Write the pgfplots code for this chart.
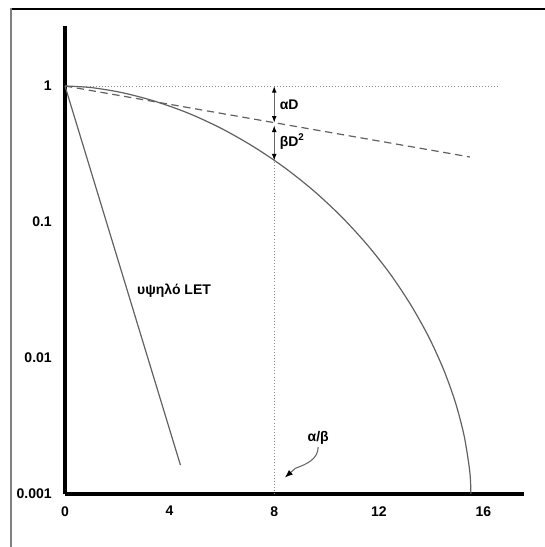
\documentclass[border=0pt]{standalone}
\usepackage{fontspec}
\setmainfont{Liberation Sans}
\usepackage{pgfplots}
\pgfplotsset{compat=1.18}
\usetikzlibrary{arrows.meta}
\begin{document}
\begin{tikzpicture}
\begin{axis}[
  at={(0pt,0pt)}, anchor=south west,
  scale only axis, width=344.25pt, height=351pt,
  ymode=log, xmin=0, xmax=17.55, ymin=0.001, ymax=2.76,
  axis x line=bottom, axis y line=left,
  axis line style={line width=2.4pt,-},
  xtick={0,4,8,12,16}, xticklabels={0,4,8,12,16},
  ytick={0.001,0.01,0.1,1}, yticklabels={0.001,0.01,0.1,1},
  tick style={draw=none}, major tick length=0pt, minor tick length=0pt,
  xticklabel style={anchor=north, inner sep=0pt, yshift=-9pt},
  yticklabel style={anchor=east, inner sep=0pt, xshift=-9.75pt},
  tick label style={font=\bfseries\fontsize{10.5}{12}\selectfont},
  /pgf/number format/assume math mode=true,
  clip=false,
]
% dotted guides
\addplot[black!45, line width=0.6pt, dash pattern=on 0.7pt off 1.6pt] coordinates {(0,1) (16.63,1)};
\addplot[black!45, line width=0.6pt, dash pattern=on 0.7pt off 1.6pt] coordinates {(8,0.001) (8,0.2826)};
% linear-quadratic curve
\addplot[black!62, line width=0.9pt, smooth] coordinates {(0,1) (1.032,0.9716) (2.221,0.8899) (3.456,0.7703) (4.713,0.6310) (5.960,0.4894) (7.183,0.3602) (8.368,0.2533) (9.499,0.1702) (10.558,0.1100) (11.540,0.06855) (12.435,0.04146) (13.226,0.02449) (13.914,0.01420) (14.484,0.008147) (14.935,0.004660) (15.260,0.002683) (15.455,0.001582) (15.505,0.001238) (15.520,0.001)};
% alpha-only dashed line
\addplot[black!62, line width=0.9pt, dash pattern=on 5.5pt off 3.5pt] coordinates {(0,1) (15.48,0.3006)};
% high LET line
\addplot[black!62, line width=0.9pt] coordinates {(0,1) (4.415,0.00163)};
% arrows
\draw[black!60, line width=0.8pt, {Latex[black,length=5pt,width=3.6pt]}-{Latex[black,length=5pt,width=3.6pt]}] (axis cs:8,1) -- (axis cs:8,0.537);
\draw[black!60, line width=0.8pt, shorten <=2pt, {Latex[black,length=5pt,width=3.6pt]}-{Latex[black,length=5pt,width=3.6pt]}] (axis cs:8,0.537) -- (axis cs:8,0.2826);
\node[anchor=west, inner sep=0pt, xshift=4pt, font=\bfseries\fontsize{10.5}{12}\selectfont] at (axis cs:8,0.733) {αD};
\node[anchor=west, inner sep=0pt, xshift=4pt, font=\bfseries\fontsize{10.5}{12}\selectfont] at (axis cs:8,0.39) {βD\textsuperscript{2}};
\node[anchor=west, inner sep=0pt, font=\bfseries\fontsize{10.5}{12}\selectfont] at (axis cs:2.75,0.0311) {υψηλό LET};
\node[inner sep=0pt, font=\bfseries\fontsize{10.5}{12}\selectfont] at (axis cs:9.68,0.0026) {α/β};
\draw[black!60, line width=0.8pt, -{Latex[black,length=6pt,width=4.5pt]}] (axis cs:9.68,0.00222) to[out=-90,in=20] ++(-17pt,-16pt) -- ++(-8pt,-7pt);
\end{axis}
\draw[black, line width=1.5pt] (-40.5pt,364.1pt) -- (362pt,364.1pt);
\draw[black!50, line width=1.5pt] (-40.5pt,364.85pt) -- (-40.5pt,-42pt);
\pgfresetboundingbox
\useasboundingbox (-48.75pt,-39.75pt) rectangle (359.25pt,370.5pt);
\end{tikzpicture}
\end{document}
